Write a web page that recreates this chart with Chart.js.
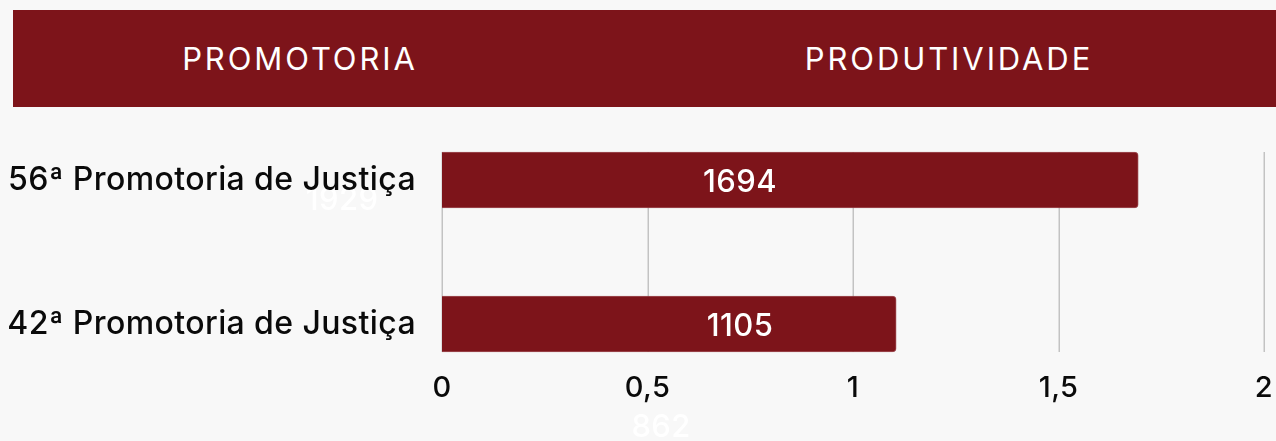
<!DOCTYPE html>
<html>
<head>
<meta charset="utf-8">
<script src="https://cdn.jsdelivr.net/npm/chart.js@4/dist/chart.umd.min.js"></script>
<style>
  html, body { margin: 0; padding: 0; background: #f8f8f8; }
  #wrap { position: relative; width: 1276px; height: 441px; overflow: hidden; background: #f8f8f8; }
  #hdr { position: absolute; left: 13px; top: 10px; width: 1263px; height: 97px; background: #7d141a; }
  .h { position: absolute; top: 0; height: 97px; line-height: 97px; color: #fff;
       font-family: "Inter", "DejaVu Sans", sans-serif; font-size: 31px; letter-spacing: 2.9px;
       transform: translateX(-50%); white-space: nowrap; }
  canvas { position: absolute; left: 0; top: 0; }
</style>
</head>
<body>
<div id="wrap">
  <div id="hdr">
    <span class="h" style="left:287px">PROMOTORIA</span>
    <span class="h" style="left:936px">PRODUTIVIDADE</span>
  </div>
  <canvas id="c" width="1276" height="441"></canvas>
</div>
<script>
const categories = ["56ª Promotoria de Justiça", "42ª Promotoria de Justiça"];
const productivity = [1694, 1105];
const hiddenValues = [1929, 862];
const xTickValues = [0, 500, 1000, 1500, 2000];
const xTickLabels = ["0", "0,5", "1", "1,5", "2"];

const FONT = '"Inter", "DejaVu Sans", sans-serif';
const BAR = '#7d141a';

const backPlugin = {
  id: 'backLabels',
  beforeDraw(chart) {
    const ctx = chart.ctx;
    ctx.letterSpacing = '0.4px';
    const meta = chart.getDatasetMeta(0);
    const xs = chart.scales.x;
    ctx.save();
    ctx.font = '500 31px ' + FONT;
    ctx.textAlign = 'center';
    ctx.textBaseline = 'middle';
    ctx.fillStyle = 'rgba(255,255,255,0.95)';
    ctx.fillText(String(hiddenValues[0]), xs.left - 100, meta.data[0].y + 21);
    ctx.fillText(String(hiddenValues[1]), xs.getPixelForValue(533), meta.data[1].y + 104);
    ctx.restore();
  }
};

const gridPlugin = {
  id: 'gridBetween',
  beforeDatasetsDraw(chart) {
    const meta = chart.getDatasetMeta(0);
    const first = meta.data[0], last = meta.data[meta.data.length - 1];
    const top = first.y - first.height / 2;
    const bottom = last.y + last.height / 2;
    const xs = chart.scales.x;
    const ctx = chart.ctx;
    ctx.save();
    ctx.strokeStyle = '#c3c3c3';
    ctx.lineWidth = 1.5;
    xTickValues.forEach(v => {
      const x = Math.round(xs.getPixelForValue(v)) + 0.25;
      ctx.beginPath();
      ctx.moveTo(x, top);
      ctx.lineTo(x, bottom);
      ctx.stroke();
    });
    ctx.restore();
  }
};

const labelPlugin = {
  id: 'valueLabels',
  afterDatasetsDraw(chart) {
    const meta = chart.getDatasetMeta(0);
    const xs = chart.scales.x;
    const ctx = chart.ctx;
    ctx.save();
    ctx.font = '500 31px ' + FONT;
    ctx.textAlign = 'center';
    ctx.textBaseline = 'middle';
    ctx.fillStyle = '#ffffff';
    const lx = xs.getPixelForValue(725);
    meta.data.forEach((bar, i) => {
      ctx.fillText(String(productivity[i]), lx, bar.y + 3);
    });
    ctx.restore();
  }
};

new Chart(document.getElementById('c'), {
  type: 'bar',
  data: {
    labels: categories,
    datasets: [{
      data: productivity,
      backgroundColor: BAR,
      borderColor: 'rgba(150,60,66,0.9)',
      borderWidth: 1,
      borderSkipped: 'start',
      borderRadius: 4,
      barThickness: 56,
      clip: false
    }]
  },
  options: {
    indexAxis: 'y',
    responsive: false,
    animation: false,
    events: [],
    layout: { padding: { top: 180, right: 12, left: 0, bottom: 0 } },
    plugins: { legend: { display: false }, tooltip: { enabled: false } },
    scales: {
      x: {
        min: 0, max: 2000,
        grid: { display: false, drawTicks: false },
        border: { display: false },
        afterBuildTicks(s) { s.ticks = xTickValues.map(v => ({ value: v })); },
        afterFit(s) { s.height = 117; s.paddingRight = 0; s.paddingLeft = 0; },
        ticks: {
          callback: (v, i) => xTickLabels[i],
          color: '#0a0a0a',
          font: { family: FONT, size: 29, weight: '500' },
          padding: 47,
          maxRotation: 0,
          autoSkip: false
        }
      },
      y: {
        offset: false,
        grid: { display: false, drawTicks: false },
        border: { display: false },
        afterFit(s) { s.width = 442; s.paddingTop = 0; s.paddingBottom = 0; },
        ticks: {
          color: '#0a0a0a',
          font: { family: FONT, size: 32, weight: '500' },
          padding: 26
        }
      }
    }
  },
  plugins: [backPlugin, gridPlugin, labelPlugin]
});
</script>
</body>
</html>
